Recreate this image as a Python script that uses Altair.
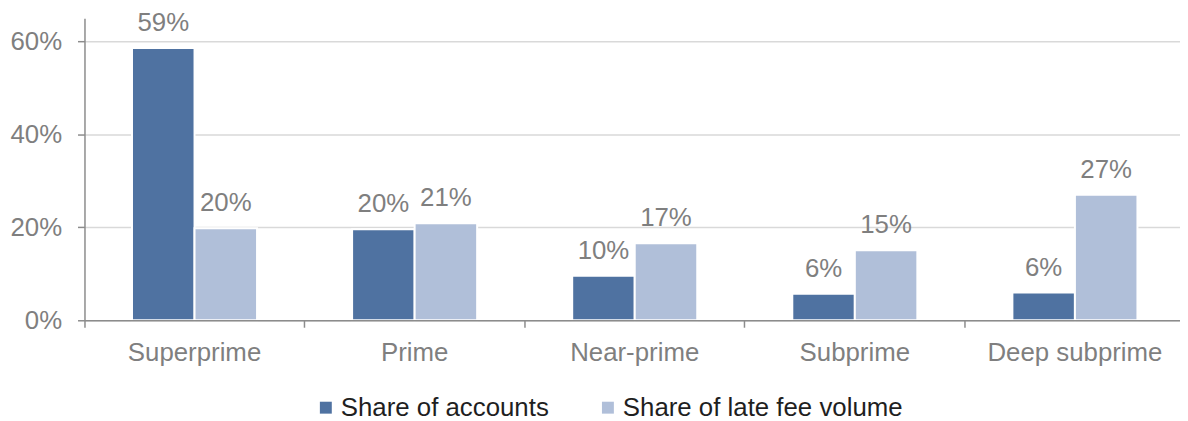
import altair as alt
import pandas as pd

categories = ["Superprime", "Prime", "Near-prime", "Subprime", "Deep subprime"]
series_names = ["Share of accounts", "Share of late fee volume"]
share_accounts = [0.586, 0.196, 0.096, 0.057, 0.060]
share_late_fee = [0.198, 0.209, 0.166, 0.151, 0.270]
y_ticks = [0, 0.2, 0.4, 0.6]

colors = ["#4F72A1", "#B0BFD9"]
FONT = "Liberation Sans"
FS = 26

rows = []
for i, c in enumerate(categories):
    rows.append({"cat": c, "series": series_names[0], "value": share_accounts[i]})
    rows.append({"cat": c, "series": series_names[1], "value": share_late_fee[i]})
df = pd.DataFrame(rows)

x_enc = alt.X("cat:N", sort=categories, title=None,
              scale=alt.Scale(paddingInner=0, paddingOuter=0, range=[0, 1108]),
              axis=alt.Axis(labelAngle=0, bandPosition=0, labelFont=FONT, labelFontSize=FS,
                            labelColor="#7F7F7F", labelPadding=13, tickSize=7,
                            tickColor="#8C8C8C", domainColor="#8C8C8C", domainWidth=1.5,
                            tickWidth=1.5, zindex=1, grid=False))
xoff = alt.XOffset("series:N", sort=series_names,
                   scale=alt.Scale(paddingInner=0, paddingOuter=0.76))
y_scale = alt.Scale(domain=[0, 0.65], nice=False)

bars = alt.Chart(df).mark_bar(stroke="white", strokeWidth=2).encode(
    x=x_enc,
    xOffset=xoff,
    y=alt.Y("value:Q", scale=y_scale, title=None,
            axis=alt.Axis(values=y_ticks, format=".0%", labelFont=FONT, labelFontSize=FS,
                          labelColor="#7F7F7F", labelPadding=16, tickSize=7,
                          tickColor="#8C8C8C", domainColor="#8C8C8C", domainWidth=1.5,
                          tickWidth=1.5, gridColor="#D9D9D9", gridWidth=1.5)),
    color=alt.Color("series:N", sort=series_names,
                    scale=alt.Scale(domain=series_names, range=colors),
                    legend=alt.Legend(title=None, orient="none", direction="horizontal",
                                      legendX=230, legendY=379, padding=0,
                                      symbolType="square", labelLimit=0,
                                      symbolSize=144, symbolStrokeWidth=0,
                                      labelFont=FONT, labelFontSize=FS, labelColor="#1F1F1F",
                                      labelOffset=2, columnPadding=46)),
)

labels = alt.Chart(df).mark_text(baseline="alphabetic", align="center", dy=-17,
                                 font=FONT, fontSize=FS, color="#7F7F7F").encode(
    x=alt.X("cat:N", sort=categories),
    xOffset=alt.XOffset("series:N", sort=series_names),
    y=alt.Y("value:Q"),
    text=alt.Text("value:Q", format=".0%"),
)

chart = alt.layer(bars, labels).properties(
    width=1103, height=304,
    autosize=alt.AutoSizeParams(type="none"),
    padding={"left": 77, "top": 9, "right": 0, "bottom": 100},
).configure_view(stroke=None)

chart.save("out.html", embed_options={"renderer": "svg", "actions": False})
